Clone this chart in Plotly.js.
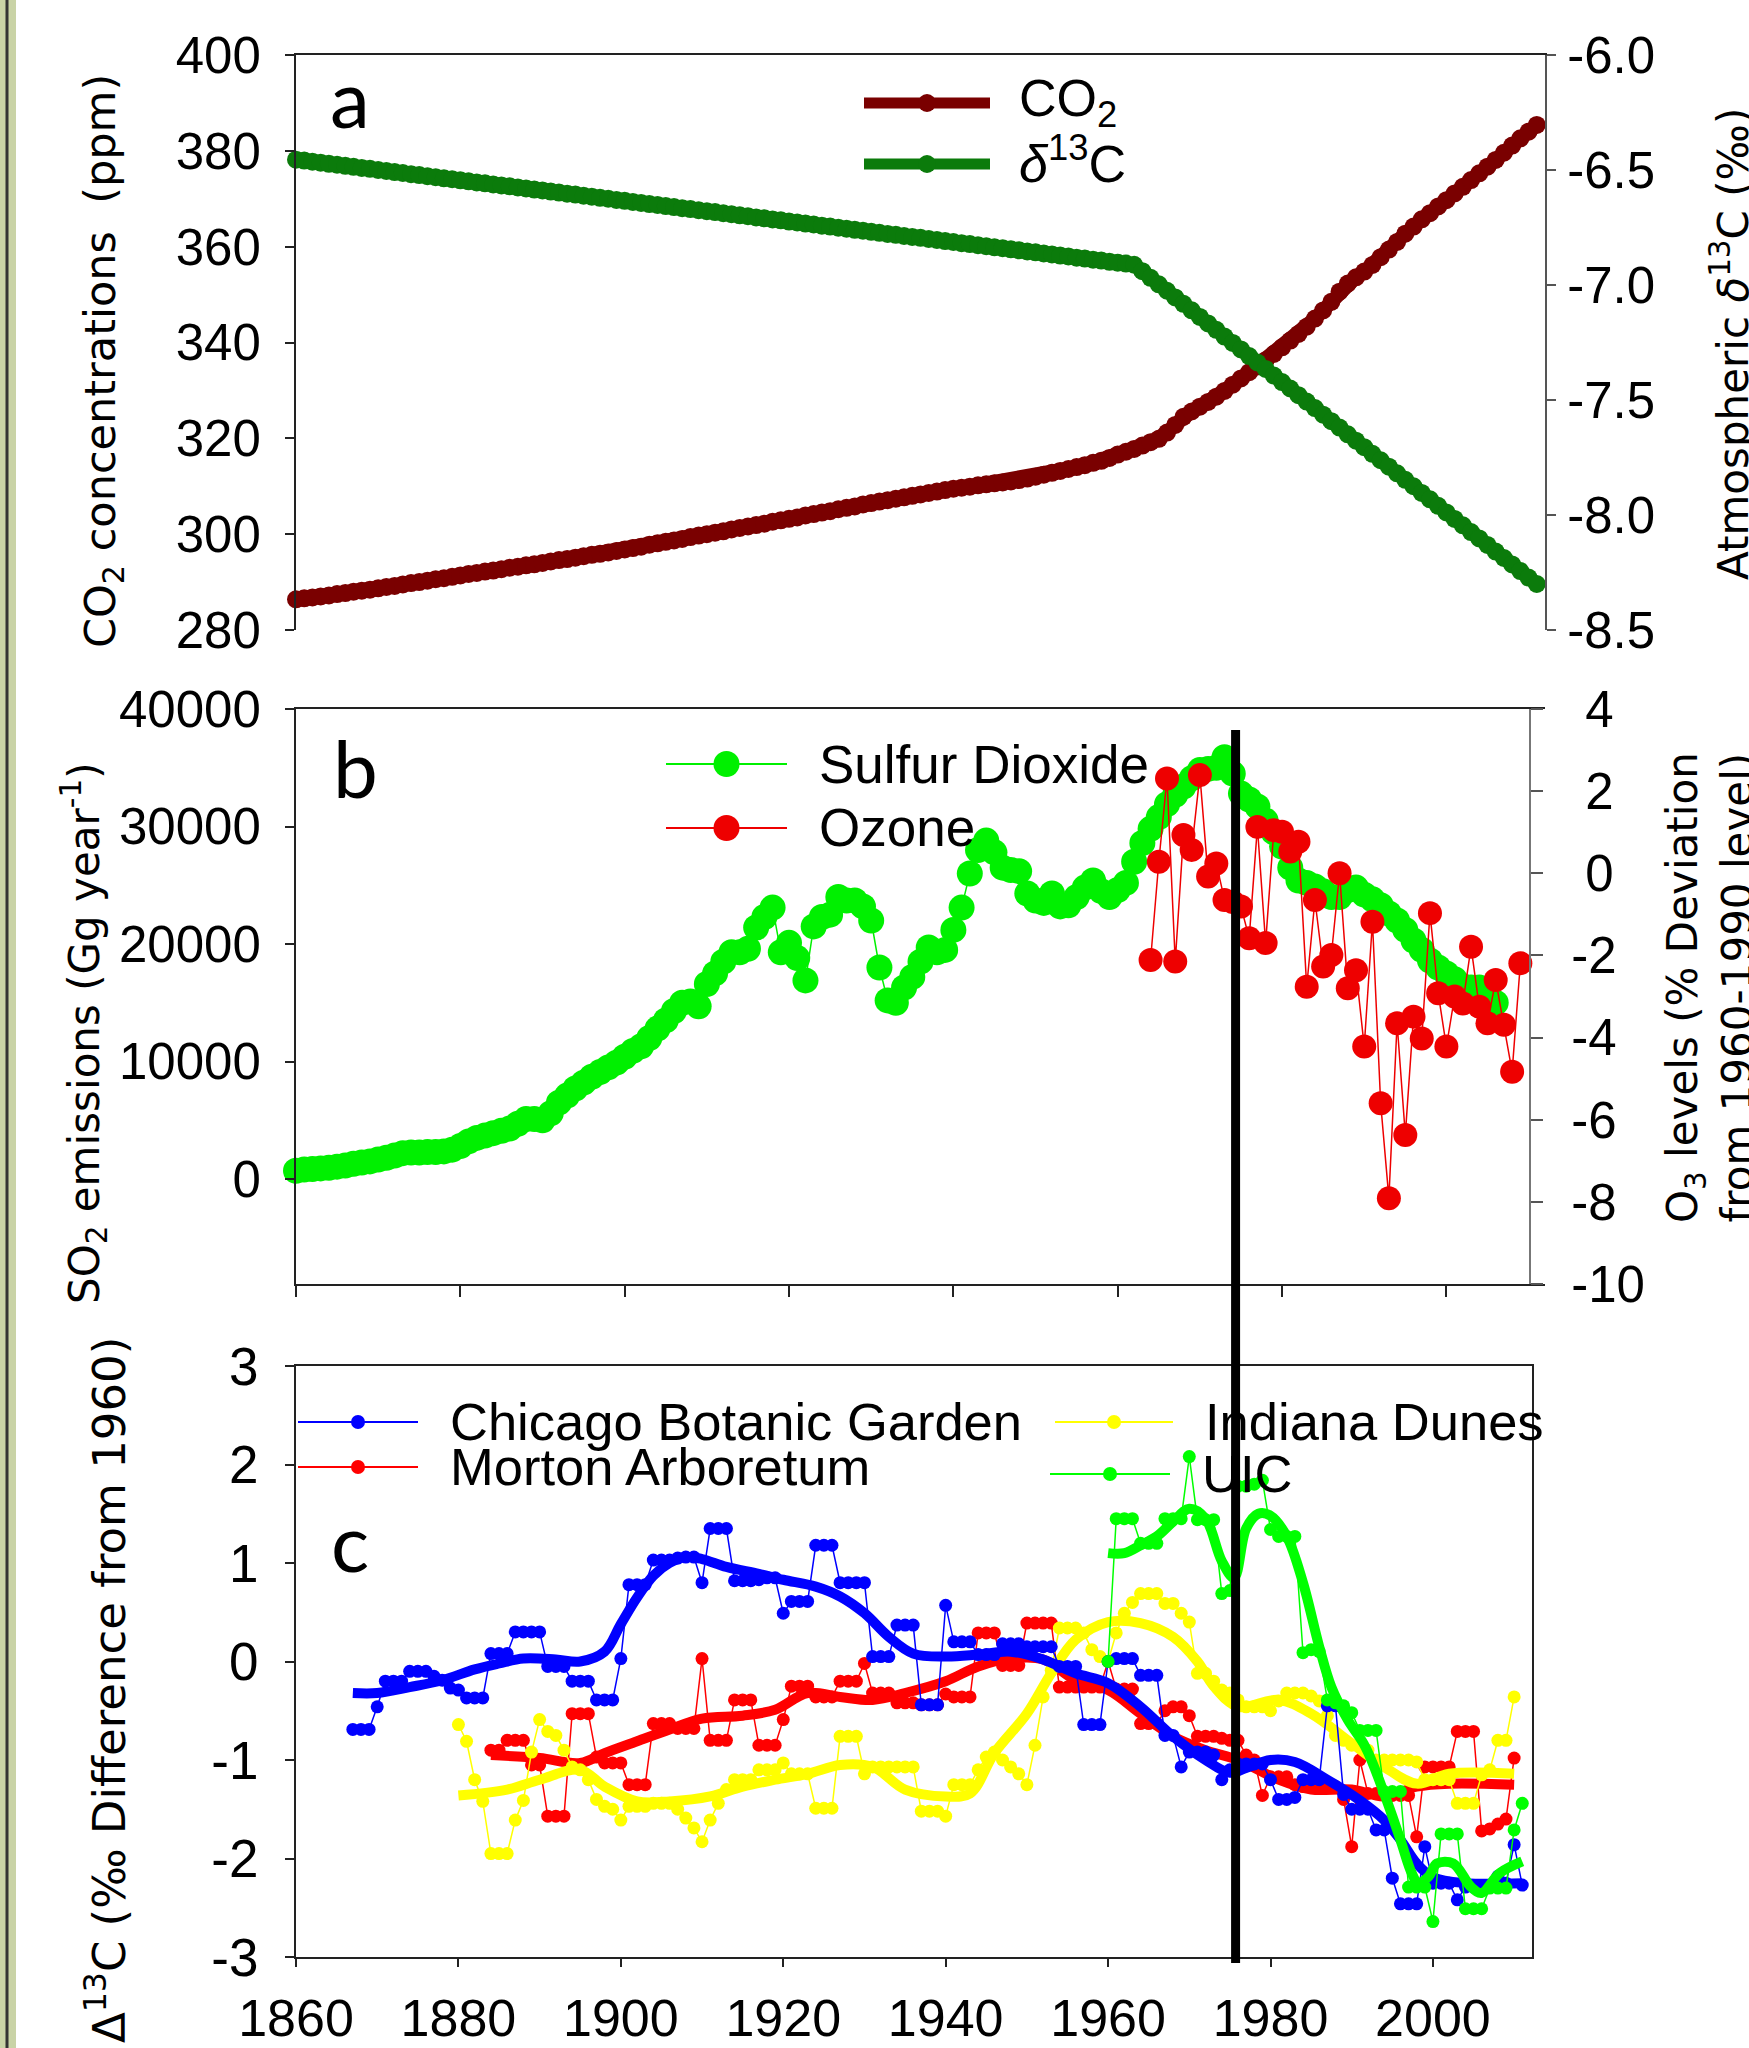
<!DOCTYPE html>
<html><head><meta charset="utf-8">
<script src="https://cdn.plot.ly/plotly-3.0.1.min.js"></script>
<style>html,body{margin:0;padding:0;background:#fff}#chart{width:1749px;height:2048px}</style>
</head><body><div id="chart"></div>
<script>
function yearSpan(a,b){const r=[];for(let y=a;y<=b;y++)r.push(y);return r;}

// ---------- Panel a ----------
const co2Start = 1860;
const co2Values = [
286.4,286.6,286.8,287.0,287.2,287.5,287.7,288.0,288.2,288.4,
288.7,289.0,289.2,289.5,289.8,290.0,290.3,290.6,290.8,291.1,
291.4,291.7,291.9,292.2,292.4,292.7,293.0,293.2,293.5,293.7,
294.0,294.3,294.6,294.8,295.1,295.4,295.7,295.9,296.2,296.5,
296.8,297.1,297.4,297.8,298.1,298.4,298.7,299.0,299.4,299.7,
300.0,300.3,300.6,301.0,301.3,301.6,301.9,302.2,302.6,302.9,
303.2,303.5,303.9,304.2,304.5,304.8,305.2,305.5,305.8,306.2,
306.5,306.8,307.1,307.4,307.7,308.0,308.3,308.6,308.9,309.2,
309.5,309.7,309.9,310.2,310.4,310.6,310.8,311.0,311.3,311.6,
312.0,312.4,312.8,313.2,313.6,314.0,314.4,314.9,315.3,315.9,
316.6,317.2,317.8,318.5,319.2,319.9,321.2,322.8,324.5,325.6,
326.6,327.6,328.7,329.9,331.2,332.5,333.8,335.0,336.3,337.6,
339.0,340.4,341.8,343.3,345.0,346.7,348.5,350.6,352.3,353.6,
354.8,356.2,357.8,359.4,361.0,362.7,364.2,365.7,367.0,368.4,
369.7,371.1,372.5,373.9,375.3,376.7,378.1,379.6,381.1,382.6,
384.0,385.4];
const d13cValues = [
-6.455,-6.459,-6.464,-6.468,-6.473,-6.477,-6.482,-6.486,-6.491,-6.495,
-6.500,-6.504,-6.509,-6.513,-6.518,-6.522,-6.527,-6.531,-6.536,-6.540,
-6.545,-6.549,-6.554,-6.558,-6.563,-6.567,-6.571,-6.576,-6.580,-6.585,
-6.589,-6.594,-6.598,-6.603,-6.607,-6.612,-6.616,-6.621,-6.625,-6.630,
-6.634,-6.639,-6.643,-6.648,-6.652,-6.657,-6.661,-6.666,-6.670,-6.675,
-6.679,-6.683,-6.688,-6.692,-6.697,-6.701,-6.706,-6.710,-6.715,-6.719,
-6.724,-6.728,-6.733,-6.737,-6.742,-6.746,-6.751,-6.755,-6.760,-6.764,
-6.769,-6.773,-6.778,-6.782,-6.787,-6.791,-6.795,-6.800,-6.804,-6.809,
-6.813,-6.818,-6.822,-6.827,-6.831,-6.836,-6.840,-6.845,-6.849,-6.854,
-6.858,-6.863,-6.867,-6.872,-6.876,-6.881,-6.885,-6.890,-6.894,-6.899,
-6.903,-6.907,-6.912,-6.940,-6.969,-6.997,-7.025,-7.054,-7.082,-7.110,
-7.139,-7.167,-7.195,-7.224,-7.252,-7.280,-7.309,-7.337,-7.365,-7.394,
-7.422,-7.450,-7.479,-7.507,-7.535,-7.564,-7.592,-7.620,-7.649,-7.677,
-7.705,-7.734,-7.762,-7.790,-7.819,-7.847,-7.875,-7.904,-7.932,-7.960,
-7.989,-8.017,-8.045,-8.074,-8.102,-8.130,-8.159,-8.187,-8.215,-8.244,
-8.272,-8.300];
const co2Ticks = [280,300,320,340,360,380,400];
const d13cTicks = [-8.5,-8.0,-7.5,-7.0,-6.5,-6.0];
const d13cTickText = ['-8.5','-8.0','-7.5','-7.0','-6.5','-6.0'];

// ---------- Panel b ----------
const so2Start = 1860;
const so2Values = [
700,800,850,900,950,1050,1150,1300,1400,1500,
1650,1800,2000,2200,2250,2250,2300,2300,2350,2500,
2800,3200,3500,3700,3900,4100,4300,4700,5100,5100,
5000,5600,6500,7100,7700,8200,8700,9100,9500,9900,
10400,10900,11300,12000,12800,13500,14300,15000,15100,14700,
16600,17500,18500,19300,19300,19600,21400,22300,23100,19300,
20100,18800,16900,21500,22300,22500,24000,23700,23700,23200,
22000,18000,15200,15000,16300,17200,18500,19700,19300,19500,
21200,23100,26000,28000,28800,27800,26500,26300,26200,24300,
23700,23500,24300,23200,23300,24000,24800,25400,24500,24000,
24600,25200,27000,28600,29800,30800,31900,32700,33400,34100,
34800,34900,35000,35900,34500,32800,32300,31700,30500,29500,
28300,26500,25400,25200,24900,24500,24000,24000,24600,24800,
24200,23800,23300,22600,22000,21200,20300,19500,18600,18000,
17500,17000,16400,16300,16300,15800,15000];
const ozoneStart = 1964;
const ozoneValues = [
-2.11,0.28,2.31,-2.15,0.93,0.57,2.39,-0.08,0.24,-0.65,
-0.70,-0.81,-1.58,1.13,-1.70,1.05,1.01,0.53,0.77,-2.76,
-0.65,-2.27,-1.99,0.00,-2.80,-2.36,-4.22,-1.18,-5.60,-7.91,
-3.65,-6.37,-3.49,-4.02,-0.97,-2.92,-4.22,-3.00,-3.17,-1.79,
-3.25,-3.65,-2.60,-3.69,-4.83,-2.19];
const so2Ticks = [0,10000,20000,30000,40000];
const so2TickText = ['0','10000','20000','30000','40000'];
const ozoneTicks = [-10,-8,-6,-4,-2,0,2,4];
const ozoneTickText = ['-10','-8','-6','-4','-2','\u20080','\u20082','\u20084'];

// ---------- Panel c ----------
const chicagoStart = 1867;
const chicagoValues = [
-0.69,-0.69,-0.69,
-0.46,-0.20,-0.20,-0.20,-0.10,-0.10,-0.10,-0.15,-0.19,-0.27,
-0.29,-0.37,-0.37,-0.37,0.08,0.08,0.08,0.30,0.30,0.30,
0.30,-0.05,-0.05,-0.05,-0.20,-0.20,-0.20,-0.39,-0.39,-0.39,
0.03,0.78,0.78,0.78,1.03,1.03,1.03,1.05,1.06,1.06,
0.80,1.35,1.35,1.35,0.82,0.82,0.82,0.83,0.85,0.85,
0.49,0.61,0.61,0.61,1.18,1.18,1.18,0.80,0.80,0.80,
0.80,0.05,0.05,0.05,0.37,0.37,0.37,-0.44,-0.44,-0.44,
0.57,0.20,0.20,0.20,0.07,0.07,0.07,0.18,0.18,0.18,
0.15,0.15,0.15,0.15,-0.05,-0.05,-0.05,-0.64,-0.64,-0.64,
0.00,0.03,0.03,0.03,-0.14,-0.14,-0.14,-0.75,-0.75,-1.07,
-0.92,-0.92,-0.92,-0.95,-1.20,-1.10,-1.04,-1.04,-1.04,-1.04,
-1.20,-1.40,-1.40,-1.38,-1.20,-1.20,-1.20,-0.45,-0.45,-1.35,
-1.50,-1.50,-1.50,-1.71,-1.71,-2.20,-2.46,-2.46,-2.46,-1.88,
-2.25,-2.25,-2.25,-2.42,-2.29,-2.29,-2.29,-2.29,-2.18,-2.25,
-1.86,-2.27];
const mortonStart = 1884;
const mortonValues = [
-0.90,-0.90,-0.80,-0.80,-0.80,-1.05,
-1.05,-1.57,-1.57,-1.57,-0.53,-0.53,-0.53,-0.97,-1.03,-1.03,
-1.03,-1.25,-1.25,-1.25,-0.63,-0.63,-0.63,-0.68,-0.68,-0.68,
0.03,-0.80,-0.80,-0.80,-0.39,-0.39,-0.39,-0.85,-0.85,-0.85,
-0.59,-0.25,-0.25,-0.25,-0.36,-0.36,-0.36,-0.20,-0.20,-0.20,
-0.02,-0.32,-0.32,-0.32,-0.42,-0.42,-0.42,-0.44,-0.44,-0.44,
-0.33,-0.36,-0.36,-0.36,0.29,0.29,0.29,-0.04,-0.04,-0.04,
0.39,0.39,0.39,0.39,-0.26,-0.26,-0.26,-0.26,-0.26,-0.26,
0.00,-0.28,-0.28,-0.28,-0.63,-0.63,-0.63,-0.50,-0.46,-0.46,
-0.55,-0.76,-0.76,-0.76,-0.78,-0.80,-0.80,-0.95,-1.00,-1.36,
-1.17,-1.17,-1.17,-1.25,-1.27,-1.27,-1.27,-1.27,-1.27,-1.40,
-1.88,-1.00,-1.34,-1.34,-1.34,-1.36,-1.36,-1.36,-1.78,-1.07,
-1.07,-1.07,-1.07,-0.71,-0.71,-0.71,-1.72,-1.70,-1.65,-1.60,
-0.98];
const dunesStart = 1880;
const dunesValues = [
-0.64,-0.81,-1.20,-1.42,-1.95,-1.95,-1.95,-1.61,-1.41,-0.92,
-0.59,-0.71,-0.75,-0.90,-1.07,-1.10,-1.20,-1.40,-1.47,-1.50,
-1.61,-1.47,-1.47,-1.47,-1.44,-1.44,-1.44,-1.50,-1.59,-1.69,
-1.83,-1.61,-1.44,-1.30,-1.20,-1.20,-1.20,-1.10,-1.10,-1.10,
-1.03,-1.14,-1.14,-1.14,-1.49,-1.49,-1.49,-0.76,-0.76,-0.76,
-1.14,-1.07,-1.07,-1.07,-1.07,-1.07,-1.07,-1.52,-1.52,-1.52,
-1.57,-1.25,-1.25,-1.25,-1.10,-0.97,-0.92,-1.00,-1.07,-1.14,
-1.25,-0.85,-0.36,-0.09,0.34,0.34,0.34,0.29,0.12,0.05,
0.00,0.29,0.49,0.60,0.69,0.69,0.69,0.59,0.59,0.49,
0.40,-0.12,-0.12,-0.20,-0.29,-0.32,-0.39,-0.46,-0.46,-0.46,
-0.50,-0.40,-0.32,-0.32,-0.32,-0.35,-0.40,-0.55,-0.75,-0.80,
-0.85,-0.87,-0.90,-1.00,-1.00,-1.00,-1.00,-1.00,-1.02,-1.20,
-1.20,-1.20,-1.20,-1.44,-1.44,-1.44,-1.15,-1.10,-0.80,-0.80,
-0.36];
const uicStart = 1960;
const uicValues = [
0.00,1.45,1.45,1.45,1.20,1.20,1.20,1.45,1.45,1.45,
2.08,1.44,1.44,1.44,0.69,0.72,1.78,1.78,1.80,1.84,
1.34,1.27,1.27,1.27,0.09,0.12,0.10,-0.39,-0.42,-0.45,
-0.52,-0.70,-0.70,-0.70,-1.32,-1.32,-1.32,-2.29,-2.29,-2.29,
-2.64,-1.75,-1.75,-1.75,-2.51,-2.51,-2.51,-2.30,-2.30,-2.30,
-1.71,-1.44];
// smoothed trend curves
const chicagoTrendYears = [1867,1870,1874,1878,1882,1885,1888,1892,1895,1898,1900,1902,1904,1906,1908,1910,1913,1917,1920,1924,1927,1930,1933,1936,1940,1944,1948,1952,1956,1960,1964,1968,1972,1975,1977,1980,1983,1987,1991,1994,1996,1998,2000,2004,2011];
const chicagoTrend = [-0.32,-0.32,-0.26,-0.19,-0.08,-0.02,0.03,0.02,0.00,0.10,0.38,0.65,0.87,1.00,1.06,1.04,0.96,0.89,0.83,0.76,0.66,0.49,0.25,0.08,0.05,0.07,0.10,0.02,-0.12,-0.22,-0.46,-0.76,-1.00,-1.13,-1.08,-1.00,-1.02,-1.20,-1.41,-1.61,-1.81,-2.05,-2.19,-2.25,-2.25];
const mortonTrendYears = [1884,1890,1895,1898,1902,1906,1910,1915,1919,1923,1927,1931,1935,1940,1944,1948,1952,1956,1960,1964,1968,1972,1976,1981,1985,1990,1994,1998,2002,2010];
const mortonTrend = [-0.95,-0.98,-1.03,-0.93,-0.81,-0.69,-0.58,-0.55,-0.49,-0.32,-0.36,-0.39,-0.32,-0.20,-0.05,0.03,0.02,-0.19,-0.29,-0.53,-0.76,-0.90,-1.00,-1.20,-1.30,-1.30,-1.37,-1.27,-1.24,-1.25];
const dunesTrendYears = [1880,1886,1890,1895,1898,1902,1906,1911,1915,1919,1923,1927,1931,1935,1940,1943,1946,1950,1953,1956,1960,1964,1968,1971,1973,1976,1981,1985,1990,1994,1998,2002,2010];
const dunesTrend = [-1.36,-1.30,-1.20,-1.10,-1.27,-1.42,-1.42,-1.37,-1.27,-1.20,-1.14,-1.05,-1.07,-1.30,-1.37,-1.34,-0.93,-0.53,-0.12,0.22,0.40,0.39,0.25,0.00,-0.25,-0.46,-0.39,-0.53,-0.83,-1.07,-1.24,-1.14,-1.14];
const uicTrendYears = [1960,1962,1964,1966,1968,1970,1972,1974,1975.5,1977,1978.5,1980,1982,1984,1986,1987.5,1989.5,1991.7,1994,1996,1997.4,1998.2,1999.5,2000.5,2002.5,2004.7,2006,2008.2,2011];
const uicTrend = [1.10,1.10,1.18,1.27,1.42,1.55,1.45,1.02,0.85,1.35,1.50,1.48,1.27,0.80,0.15,-0.26,-0.59,-0.87,-1.34,-1.81,-2.15,-2.25,-2.18,-2.05,-2.05,-2.29,-2.35,-2.15,-2.03];
const deltaTicks = [-3,-2,-1,0,1,2,3];
const deltaTickText = ['-3','-2','-1','0','1','2','3'];
const yearTicks = [1860,1880,1900,1920,1940,1960,1980,2000];
const yearTickText = ['1860','1880','1900','1920','1940','1960','1980','2000'];
const markerLineYear = 1975.7;

// ---------- styling ----------
const W = 1749, H = 2048;
const px = X => X / W, py = Y => 1 - Y / H;
const NUM = 'Liberation Sans, Arial, sans-serif';
const TTL = 'DejaVu Sans, Verdana, sans-serif';
const C = {co2:'#7a0000', d13c:'#0b7b0b', so2:'#00f000', oz:'#ee0000',
           blue:'#0000ff', red:'#ff0000', yellow:'#ffff00', green:'#00ff00'};

function raw(x, y, color, xa, ya, ms, lw){
  return {x, y, xaxis:xa, yaxis:ya, type:'scatter', mode:'lines+markers', cliponaxis:false,
    line:{color, width:lw}, marker:{color, size:ms}, hoverinfo:'skip'};
}
function trend(x, y, color){
  return {x, y, xaxis:'x3', yaxis:'y5', type:'scatter', mode:'lines', cliponaxis:false,
    line:{color, width:10, shape:'spline', smoothing:1}, hoverinfo:'skip'};
}

const traces = [
  raw(yearSpan(co2Start, co2Start+co2Values.length-1), co2Values, C.co2, 'x', 'y', 18, 14),
  raw(yearSpan(co2Start, co2Start+d13cValues.length-1), d13cValues, C.d13c, 'x', 'y2', 18, 14),
  raw(yearSpan(so2Start, so2Start+so2Values.length-1), so2Values, C.so2, 'x2', 'y3', 26, 1.5),
  raw(yearSpan(ozoneStart, ozoneStart+ozoneValues.length-1), ozoneValues, C.oz, 'x2', 'y4', 24, 1.5),
  raw(yearSpan(mortonStart, mortonStart+mortonValues.length-1), mortonValues, C.red, 'x3', 'y5', 13, 1.5),
  trend(mortonTrendYears, mortonTrend, C.red),
  raw(yearSpan(dunesStart, dunesStart+dunesValues.length-1), dunesValues, C.yellow, 'x3', 'y5', 13, 1.5),
  trend(dunesTrendYears, dunesTrend, C.yellow),
  raw(yearSpan(chicagoStart, chicagoStart+chicagoValues.length-1), chicagoValues, C.blue, 'x3', 'y5', 13, 1.5),
  trend(chicagoTrendYears, chicagoTrend, C.blue),
  raw(yearSpan(uicStart, uicStart+uicValues.length-1), uicValues, C.green, 'x3', 'y5', 13, 1.5),
  trend(uicTrendYears, uicTrend, C.green)
];

const axBase = {showgrid:false, zeroline:false, linecolor:'#222', linewidth:2, tickcolor:'#222', tickwidth:2,
  tickfont:{family:NUM, size:51, color:'#000'}};

function legendSymbol(x0, x1, y, color, lw, r){
  const cx = (x0+x1)/2;
  return [
    {type:'line', xref:'paper', yref:'paper', x0:px(x0), x1:px(x1), y0:py(y), y1:py(y), line:{color, width:lw}},
    {type:'circle', xref:'paper', yref:'paper', x0:px(cx-r), x1:px(cx+r), y0:py(y+r), y1:py(y-r), fillcolor:color, line:{width:0}}
  ];
}
const shapes = [
  // left page border decoration
  {type:'rect', xref:'paper', yref:'paper', x0:0, x1:px(16), y0:0, y1:1, fillcolor:'#c9d3a6', line:{width:0}, layer:'below'},
  {type:'line', xref:'paper', yref:'paper', x0:px(7), x1:px(7), y0:0, y1:1, line:{color:'#333', width:3}},
  ...legendSymbol(864, 990, 103, C.co2, 11, 9),
  ...legendSymbol(864, 990, 164, C.d13c, 11, 9),
  ...legendSymbol(666, 787, 764, C.so2, 2, 13),
  ...legendSymbol(666, 787, 828, C.oz, 2, 13),
  ...legendSymbol(298, 418, 1422, C.blue, 2, 7),
  ...legendSymbol(298, 418, 1467, C.red, 2, 7),
  ...legendSymbol(1055, 1173, 1422, C.yellow, 2, 7),
  ...legendSymbol(1050, 1170, 1474, C.green, 2, 7),
  // vertical reference line through panels b and c
  {type:'line', xref:'x3', yref:'paper', x0:markerLineYear, x1:markerLineYear, y0:py(1963), y1:py(730),
   line:{color:'#000', width:9}, layer:'above'}
];

function txt(X, Y, text, size, family, extra){
  return Object.assign({xref:'paper', yref:'paper', x:px(X), y:py(Y), text, showarrow:false,
    xanchor:'left', yanchor:'middle', font:{family, size, color:'#000'}}, extra||{});
}
const annotations = [
  txt(350, 97, 'a', 80, 'Lato, Open Sans, sans-serif', {xanchor:'center'}),
  txt(355, 767, 'b', 80, 'Lato, Open Sans, sans-serif', {xanchor:'center'}),
  txt(350, 1541, 'c', 80, 'Lato, Open Sans, sans-serif', {xanchor:'center'}),
  txt(1017, 102, 'CO<sub>2</sub>', 52, NUM),
  txt(1017, 160, '<i>δ</i><sup>13</sup>C', 52, NUM),
  txt(817, 764, 'Sulfur Dioxide', 53, NUM),
  txt(817, 827, 'Ozone', 53, NUM),
  txt(448, 1421, 'Chicago Botanic Garden', 52.5, NUM),
  txt(448, 1466, 'Morton Arboretum', 52.5, NUM),
  txt(1203, 1421, 'Indiana Dunes', 52.5, NUM),
  txt(1200, 1473, 'UIC', 52.5, NUM),
  txt(103, 361, 'CO<sub>2</sub> concentrations \u00a0(ppm)', 43, TTL, {xanchor:'center', textangle:-90}),
  txt(1730, 344, 'Atmospheric <i>δ</i><sup>13</sup>C (‰)', 42, TTL, {xanchor:'center', textangle:-90}),
  txt(84, 1033, 'SO<sub>2</sub> emissions (Gg year<sup>-1</sup>)', 42, TTL, {xanchor:'center', textangle:-90}),
  txt(1710, 988, 'O<sub>3</sub> levels (% Deviation<br>from 1960-1990 level)', 42, TTL, {xanchor:'center', textangle:-90}),
  txt(106, 1690, 'Δ<sup>13</sup>C (‰ Difference from 1960)', 45, TTL, {xanchor:'center', textangle:-90})
];

const layout = {
  width:W, height:H, margin:{l:0, r:0, t:0, b:0}, paper_bgcolor:'#fff', plot_bgcolor:'rgba(0,0,0,0)',
  showlegend:false, hovermode:false,
  // panel a
  xaxis: Object.assign({}, axBase, {domain:[px(296), px(1545)], range:[1860, 2012], anchor:'y', side:'top',
    showline:true, ticks:'', showticklabels:false}),
  yaxis: Object.assign({}, axBase, {domain:[py(630), py(55)], range:[280, 400], anchor:'x',
    tickvals:co2Ticks, ticktext:co2Ticks.map(String), ticks:'outside', ticklen:9, showline:true, ticklabelstandoff:14}),
  yaxis2: Object.assign({}, axBase, {overlaying:'y', side:'right', anchor:'x', range:[-8.5, -6.0],
    tickvals:d13cTicks, ticktext:d13cTickText, ticks:'outside', ticklen:9, showline:true, linecolor:'#555', tickcolor:'#555', ticklabelstandoff:1}),
  // panel b
  xaxis2: Object.assign({}, axBase, {domain:[px(296), px(1545)], range:[1860, 2012], anchor:'y3',
    tickvals:yearTicks, ticks:'outside', ticklen:11, showticklabels:false, showline:true, mirror:true}),
  yaxis3: Object.assign({}, axBase, {domain:[py(1284), py(709)], range:[-8936, 40000], anchor:'x2',
    tickvals:so2Ticks, ticktext:so2TickText, ticks:'outside', ticklen:9, showline:true, ticklabelstandoff:14}),
  yaxis4: Object.assign({}, axBase, {overlaying:'y3', side:'right', anchor:'free', position:px(1530), range:[-10, 4],
    tickvals:ozoneTicks, ticktext:ozoneTickText, ticks:'outside', ticklen:12, showline:true, linecolor:'#777', tickcolor:'#555', ticklabelstandoff:18}),
  // panel c
  xaxis3: Object.assign({}, axBase, {domain:[px(296), px(1532)], range:[1860, 2012.2], anchor:'y5',
    tickvals:yearTicks, ticktext:yearTickText, ticks:'outside', ticklen:8, showline:true, mirror:true,
    tickfont:{family:NUM, size:52, color:'#000'}, ticklabelstandoff:7}),
  yaxis5: Object.assign({}, axBase, {domain:[py(1957), py(1366)], range:[-3, 3], anchor:'x3',
    tickvals:deltaTicks, ticktext:deltaTickText, ticks:'outside', ticklen:9, showline:true, mirror:true,
    tickfont:{family:NUM, size:53, color:'#000'}, ticklabelstandoff:16}),
  shapes, annotations
};

Plotly.newPlot('chart', traces, layout, {staticPlot:true, displayModeBar:false});
</script></body></html>
